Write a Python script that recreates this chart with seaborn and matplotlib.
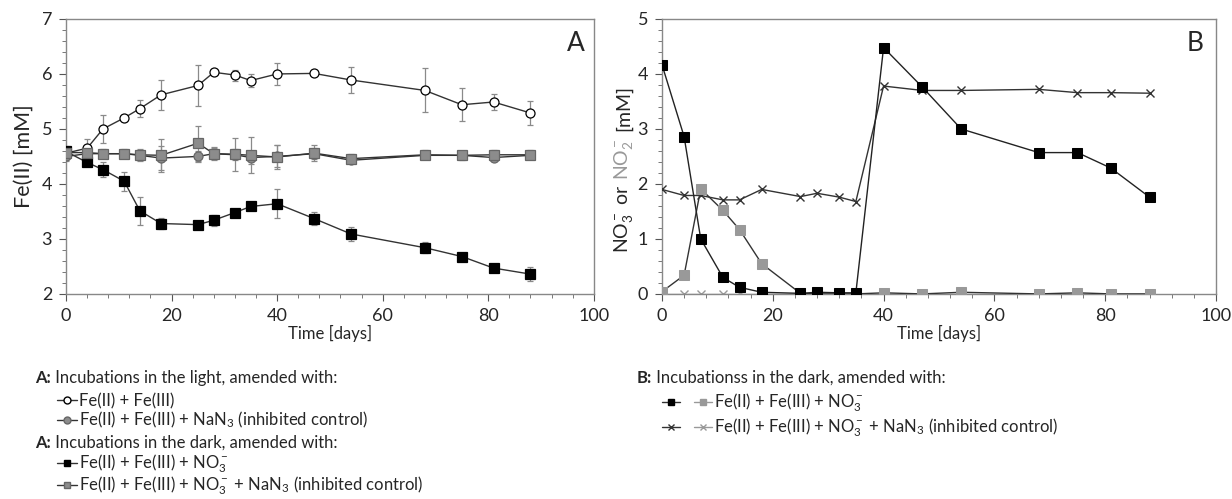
import matplotlib
matplotlib.use('Agg')
import matplotlib.pyplot as plt
import seaborn as sns
from matplotlib.lines import Line2D
from matplotlib.legend_handler import HandlerTuple
from matplotlib.ticker import MultipleLocator

days = [0, 4, 7, 11, 14, 18, 25, 28, 32, 35, 40, 47, 54, 68, 75, 81, 88]

# panel A: Fe(II) [mM]
light = [4.56, 4.65, 5.00, 5.20, 5.37, 5.62, 5.79, 6.03, 5.98, 5.88, 6.00, 6.01, 5.89, 5.70, 5.44, 5.49, 5.29]
light_err = [0.10, 0.17, 0.26, 0.05, 0.15, 0.27, 0.37, 0.04, 0.10, 0.12, 0.20, 0.02, 0.23, 0.40, 0.30, 0.14, 0.21]
light_nan3 = [4.50, 4.55, 4.55, 4.55, 4.52, 4.47, 4.50, 4.55, 4.53, 4.48, 4.50, 4.55, 4.43, 4.52, 4.52, 4.48, 4.52]
light_nan3_err = [0.08, 0.05, 0.05, 0.05, 0.10, 0.22, 0.10, 0.10, 0.10, 0.12, 0.20, 0.10, 0.05, 0.05, 0.05, 0.05, 0.05]
dark = [4.59, 4.39, 4.26, 4.05, 3.51, 3.28, 3.26, 3.34, 3.48, 3.59, 3.64, 3.37, 3.09, 2.84, 2.68, 2.47, 2.36]
dark_err = [0.10, 0.05, 0.14, 0.17, 0.25, 0.10, 0.06, 0.10, 0.03, 0.03, 0.26, 0.12, 0.12, 0.10, 0.03, 0.03, 0.13]
dark_nan3 = [4.57, 4.57, 4.55, 4.55, 4.53, 4.52, 4.74, 4.55, 4.54, 4.52, 4.49, 4.56, 4.46, 4.53, 4.52, 4.53, 4.53]
dark_nan3_err = [0.08, 0.08, 0.08, 0.08, 0.10, 0.30, 0.32, 0.12, 0.30, 0.33, 0.22, 0.14, 0.08, 0.08, 0.08, 0.08, 0.08]

# panel B: NO3- / NO2- [mM]
no3 = [4.17, 2.86, 1.00, 0.30, 0.12, 0.03, 0.01, 0.03, 0.02, 0.02, 4.48, 3.76, 3.00, 2.57, 2.57, 2.29, 1.76]
no2 = [0.04, 0.34, 1.91, 1.52, 1.17, 0.55, 0.01, 0.00, 0.00, 0.00, 0.02, 0.00, 0.03, 0.00, 0.02, 0.00, 0.00]
no3_nan3 = [1.90, 1.79, 1.79, 1.71, 1.71, 1.90, 1.77, 1.83, 1.76, 1.68, 3.78, 3.70, 3.70, 3.72, 3.66, 3.66, 3.65]
no2_nan3 = [0.00, 0.00, 0.00, 0.00, 0.00, 0.00, 0.00, 0.00, 0.00, 0.00, 0.00, 0.00, 0.00, 0.00, 0.00, 0.00, 0.00]

sns.set_theme(style='white')
plt.rcParams['font.family'] = ['Lato', 'DejaVu Sans']
plt.rcParams['mathtext.fontset'] = 'custom'
plt.rcParams['mathtext.rm'] = 'Lato'
plt.rcParams['mathtext.it'] = 'Lato:italic'
plt.rcParams['mathtext.bf'] = 'Lato:bold'
FS = 12
YFS = 15.5
GRAY = '#999999'
ERR = '#8a8a8a'

fig = plt.figure(figsize=(12.32, 4.99), dpi=100)
axA = fig.add_axes([0.0536, 0.411, 0.4284, 0.551])
axB = fig.add_axes([0.5373, 0.411, 0.4497, 0.551])

# --- panel A
for vals, err in [(light, light_err), (light_nan3, light_nan3_err),
                  (dark, dark_err), (dark_nan3, dark_nan3_err)]:
    axA.errorbar(days, vals, yerr=err, fmt='none', ecolor=ERR, elinewidth=0.9,
                 capsize=2.5, capthick=0.9, zorder=1)

styleA = [
    (light, 'o', 'white', 'black'),
    (light_nan3, 'o', '#8c8c8c', '#666666'),
    (dark, 's', 'black', 'black'),
    (dark_nan3, 's', '#8c8c8c', '#666666'),
]
for vals, mk, fc, ec in styleA:
    sns.lineplot(x=days, y=vals, ax=axA, color='#333333', linewidth=1, marker=mk,
                 markersize=6.5, markerfacecolor=fc, markeredgecolor=ec,
                 markeredgewidth=0.9, zorder=3)

axA.set_xlim(0, 100)
axA.set_ylim(2, 7)
axA.set_ylabel('Fe(II) [mM]', fontsize=YFS, labelpad=6)
axA.text(0.982, 0.955, 'A', transform=axA.transAxes, ha='right', va='top', fontsize=19)

# --- panel B
sns.lineplot(x=days, y=no2_nan3, ax=axB, color=GRAY, linewidth=1, marker='x',
             markersize=6, markeredgecolor=GRAY, markeredgewidth=1, zorder=2)
sns.lineplot(x=days, y=no3_nan3, ax=axB, color='#333333', linewidth=1, marker='x',
             markersize=6, markeredgecolor='#333333', markeredgewidth=1, zorder=3)
sns.lineplot(x=days, y=no2, ax=axB, color='#333333', linewidth=1, marker='s',
             markersize=6.5, markerfacecolor=GRAY, markeredgecolor=GRAY, zorder=3)
sns.lineplot(x=days, y=no3, ax=axB, color='#222222', linewidth=1, marker='s',
             markersize=6.5, markerfacecolor='black', markeredgecolor='black', zorder=4)

axB.set_xlim(0, 100)
axB.set_ylim(0, 5)
axB.text(0.978, 0.955, 'B', transform=axB.transAxes, ha='right', va='top', fontsize=19)

# two-colour y label for panel B
BFS = 14
t1 = axB.text(-0.07, 0.15, r'NO$_3^-$ or', rotation=90, ha='center', va='bottom',
              transform=axB.transAxes, fontsize=BFS)
t2 = axB.annotate(r'NO$_2^-$', xy=(0.5, 1), xycoords=t1, xytext=(0, 3),
                  textcoords='offset points', rotation=90, ha='center', va='bottom',
                  fontsize=BFS, color=GRAY)
axB.annotate('[mM]', xy=(0.5, 1), xycoords=t2, xytext=(0, 5),
             textcoords='offset points', rotation=90, ha='center', va='bottom',
             fontsize=BFS)

for ax in (axA, axB):
    ax.set_xlabel('Time [days]', fontsize=FS, labelpad=1)
    ax.xaxis.set_major_locator(MultipleLocator(20))
    ax.xaxis.set_minor_locator(MultipleLocator(4))
    ax.yaxis.set_major_locator(MultipleLocator(1))
    ax.yaxis.set_minor_locator(MultipleLocator(0.2))
    ax.tick_params(which='major', direction='out', length=5, width=0.8, color='#555555',
                   labelsize=13, pad=5, bottom=True, left=True)
    ax.tick_params(which='minor', direction='out', length=3, width=0.7, color='#777777',
                   bottom=True, left=True)
    for sp in ax.spines.values():
        sp.set_color('#888888')
        sp.set_linewidth(1)

# --- legend block below the panels
def header(x, y, tag, rest):
    t = fig.text(x, y, tag, fontsize=FS, fontweight='bold', va='center')
    plt.annotate(' ' + rest, xy=(1, 0), xycoords=t, va='bottom', fontsize=FS,
                 annotation_clip=False)


def entry(x, y, handle, label, hl=1.2):
    leg = fig.legend([handle], [label], loc='center left', bbox_to_anchor=(x, y),
                     frameon=False, fontsize=FS, handlelength=hl, handletextpad=0.1,
                     borderpad=0, borderaxespad=0,
                     handler_map={tuple: HandlerTuple(ndivide=None, pad=0.8)})
    return leg


def h(mk, fc, ec, lc='#333333'):
    return Line2D([], [], color=lc, lw=1, marker=mk, markersize=5,
                  markerfacecolor=fc, markeredgecolor=ec)


H = 499.0
header(35 / 1232, 1 - 378 / H, 'A:', 'Incubations in the light, amended with:')
entry(57 / 1232, 1 - 401 / H, h('o', 'white', 'black'), 'Fe(II) + Fe(III)')
entry(57 / 1232, 1 - 420 / H, h('o', '#8c8c8c', '#666666'),
      'Fe(II) + Fe(III) + NaN$_3$ (inhibited control)')
header(35 / 1232, 1 - 443 / H, 'A:', 'Incubations in the dark, amended with:')
entry(57 / 1232, 1 - 464 / H, h('s', 'black', 'black'), r'Fe(II) + Fe(III) + NO$_3^-$')
entry(57 / 1232, 1 - 486 / H, h('s', '#8c8c8c', '#666666'),
      r'Fe(II) + Fe(III) + NO$_3^-$ + NaN$_3$ (inhibited control)')

header(637 / 1232, 1 - 378 / H, 'B:', 'Incubationss in the dark, amended with:')
entry(662 / 1232, 1 - 403 / H, (h('s', 'black', 'black'), h('s', GRAY, GRAY, GRAY)),
      r'Fe(II) + Fe(III) + NO$_3^-$', hl=3.0)
entry(662 / 1232, 1 - 428 / H, (h('x', 'black', '#333333'), h('x', GRAY, GRAY, GRAY)),
      r'Fe(II) + Fe(III) + NO$_3^-$ + NaN$_3$ (inhibited control)', hl=3.0)

fig.savefig('out.png', dpi=100)
